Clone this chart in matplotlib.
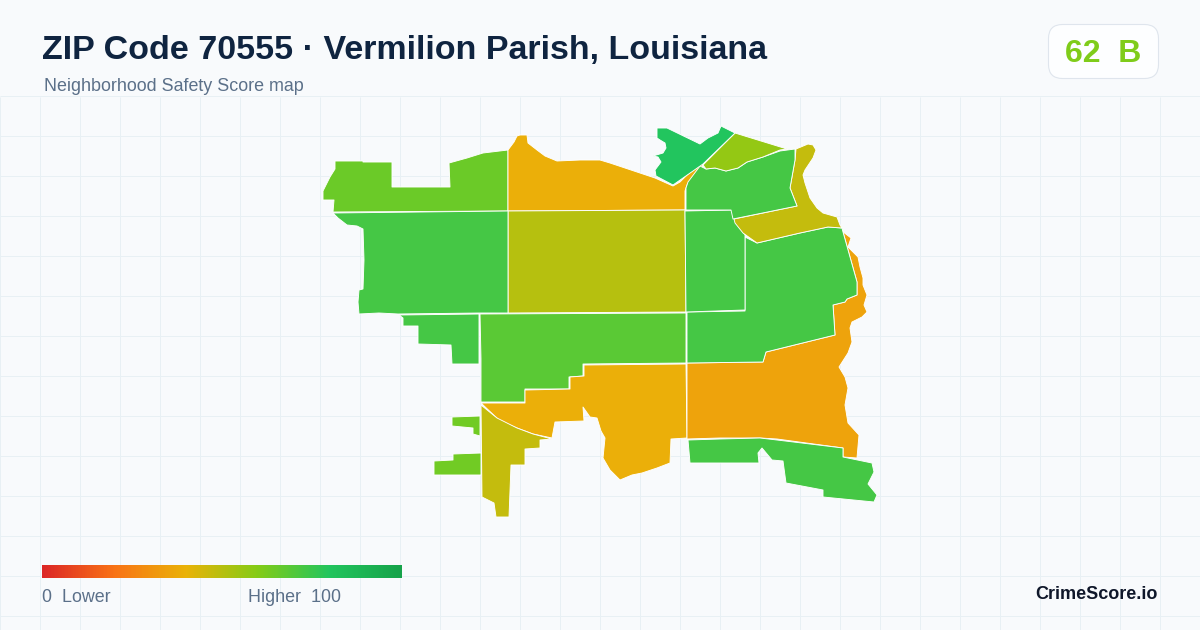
import numpy as np
import matplotlib
matplotlib.use("Agg")
import matplotlib.pyplot as plt
from matplotlib.colors import LinearSegmentedColormap
from matplotlib.patches import FancyBboxPatch, Polygon

plt.rcParams['font.family'] = ['Liberation Sans', 'DejaVu Sans']

TITLE = "ZIP Code 70555 \u00b7 Vermilion Parish, Louisiana"
SUBTITLE = "Neighborhood Safety Score map"
SCORE_TEXT = "62  B"
BRAND = "CrimeScore.io"

stop_pos = [0, 0.2, 0.4, 0.6, 0.8, 1.0]
stop_col = ["#dc2626", "#f97316", "#eab308", "#84cc16", "#22c55e", "#16a34a"]

nw_lime = [(335,161),(363,161),(363,162),(392,162),(392,187),(450,187),(449,163),(467,158),(483,153),(508,150),(508,211),(333,212),(334,200),(323,200),(323,191),(330,177),(335,169)]
north_orange = [(508,150),(514,142),(517,136),(520,135),(527,135),(528,143),(537,150),(545,156),(557,161),(580,160),(600,160),(610,163),(655,178),(673,186),(680,182),(687,175),(701,164),(703,166),(694,177),(687,185),(685,191),(685,210),(508,211)]
center_olive = [(508,211),(685,210),(686,312),(508,313)]
west_green = [(333,213),(338,218),(347,225),(357,226),(363,229),(364,260),(363,289),(359,290),(358,302),(359,314),(379,313),(398,314),(480,313),(508,313),(508,211)]
sw_green = [(399,315),(403,318),(403,326),(418,326),(418,344),(451,345),(452,364),(479,364),(479,314)]
mid_green = [(480,314),(686,313),(686,363),(583,364),(583,376),(569,377),(569,389),(525,389),(525,402),(481,402),(481,359)]
south_yellow = [(481,403),(525,403),(525,390),(570,389),(570,377),(584,376),(584,365),(686,364),(687,438),(671,439),(670,463),(657,468),(642,473),(632,475),(620,480),(610,470),(603,458),(605,438),(601,431),(597,418),(590,417),(583,407),(584,421),(555,422),(552,438),(533,434),(517,428),(500,421)]
south_olive = [(481,405),(497,418),(517,428),(533,434),(552,439),(540,440),(540,448),(525,449),(525,465),(511,465),(510,491),(509,517),(496,517),(494,503),(482,497)]
islet_a = [(452,417),(480,416),(480,436),(473,434),(473,428),(452,426)]
islet_b = [(453,454),(481,453),(481,475),(434,475),(434,461),(453,460)]
se_orange = [(687,363),(763,362),(766,352),(835,335),(833,305),(845,302),(847,299),(857,295),(857,282),(843,232),(842,228),(838,228),(851,238),(848,247),(858,257),(860,267),(863,278),(863,285),(867,295),(864,305),(867,312),(862,317),(852,322),(850,328),(852,342),(848,353),(839,367),(845,377),(848,388),(845,405),(848,423),(859,435),(857,458),(843,457),(843,448),(777,439),(760,438),(720,438),(687,439)]
east_green = [(745,311),(745,237),(757,243),(800,233),(828,227),(842,228),(843,232),(857,282),(857,295),(847,299),(845,302),(833,305),(835,335),(766,352),(763,362),(687,363),(687,312)]
strip_green = [(685,211),(732,210),(735,220),(745,235),(745,310),(686,312)]
ne_olive = [(734,219),(797,206),(790,188),(795,160),(796,149),(808,144),(813,145),(816,150),(813,158),(805,170),(803,175),(805,183),(810,198),(817,208),(823,213),(837,217),(840,225),(842,228),(828,227),(800,233),(757,243),(743,233),(735,223)]
ne_green = [(686,188),(688,182),(700,166),(706,169),(715,168),(726,171),(738,168),(747,162),(763,157),(780,151),(795,149),(795,160),(790,188),(797,206),(733,219),(731,210),(686,210)]
ne_lime = [(735,133),(787,149),(780,150),(763,157),(747,162),(738,168),(726,171),(715,168),(706,169),(703,165)]
top_green = [(657,128),(667,128),(700,144),(708,138),(718,133),(721,126),(735,133),(703,164),(673,185),(656,176),(655,170),(661,162),(658,157),(653,156),(663,153),(666,148),(665,143),(660,140),(657,138)]
south_green = [(688,440),(720,439),(760,438),(777,440),(843,448),(843,457),(872,463),(874,472),(868,484),(877,495),(874,502),(823,497),(823,490),(786,483),(783,461),(772,460),(762,448),(758,453),(759,463),(690,463)]

regions = [nw_lime, north_orange, center_olive, west_green, sw_green, mid_green,
           south_yellow, south_olive, islet_a, islet_b, se_orange, east_green,
           strip_green, ne_olive, ne_green, ne_lime, top_green, south_green]
scores = [65, 39, 50, 73, 73, 68.5,
          39, 47.5, 64, 64, 35, 73,
          73, 47.5, 73, 57, 80, 73]

cmap = LinearSegmentedColormap.from_list("score", list(zip(stop_pos, stop_col)))

fig = plt.figure(figsize=(12, 6.3), dpi=100, facecolor="#f8fafc")
ax = fig.add_axes([0, 0, 1, 1])
ax.set_xlim(0, 1200)
ax.set_ylim(630, 0)
ax.axis("off")

GRID = "#e8f0f4"
ax.vlines(np.arange(0, 1200, 40), 97, 630, color=GRID, lw=0.72, zorder=1)
ax.hlines(np.arange(96, 630, 40), 0, 1200, color=GRID, lw=0.72, zorder=1)

for poly, s in zip(regions, scores):
    ax.add_patch(Polygon(poly, closed=True, facecolor=cmap(s / 100),
                         edgecolor="white", lw=0.65, joinstyle="round", zorder=2))

ax.text(42, 59, TITLE, fontsize=24.5, fontweight="bold", color="#0f2440", ha="left", va="baseline", zorder=5)
ax.text(44, 91, SUBTITLE, fontsize=12.9, color="#5b7089", ha="left", va="baseline", zorder=5)

ax.add_patch(FancyBboxPatch((1048.5 + 14, 24.5 + 14), 110 - 28, 54 - 28,
                            boxstyle="round,pad=14,rounding_size=14",
                            facecolor="#fdfeff", edgecolor="#dfe5ed", lw=0.8, zorder=4))
ax.text(1103.5, 62, SCORE_TEXT, fontsize=23, fontweight="bold", color="#7fcc1a", ha="center", va="baseline", zorder=5)

grad = np.linspace(0, 1, 360).reshape(1, -1)
ax.imshow(grad, cmap=cmap, extent=(42, 402, 578, 565), aspect="auto", zorder=3, interpolation="bilinear")
ax.set_xlim(0, 1200)
ax.set_ylim(630, 0)

ax.text(42, 602, "0  Lower", fontsize=12.9, color="#5b7089", ha="left", va="baseline", zorder=5)
ax.text(341.5, 602, "Higher  100", fontsize=12.9, color="#5b7089", ha="right", va="baseline", zorder=5)
ax.text(1158, 599, BRAND, fontsize=13, fontweight="bold", color="#0f172a", ha="right", va="baseline", zorder=5)

fig.savefig("out.png", dpi=100, facecolor=fig.get_facecolor())
